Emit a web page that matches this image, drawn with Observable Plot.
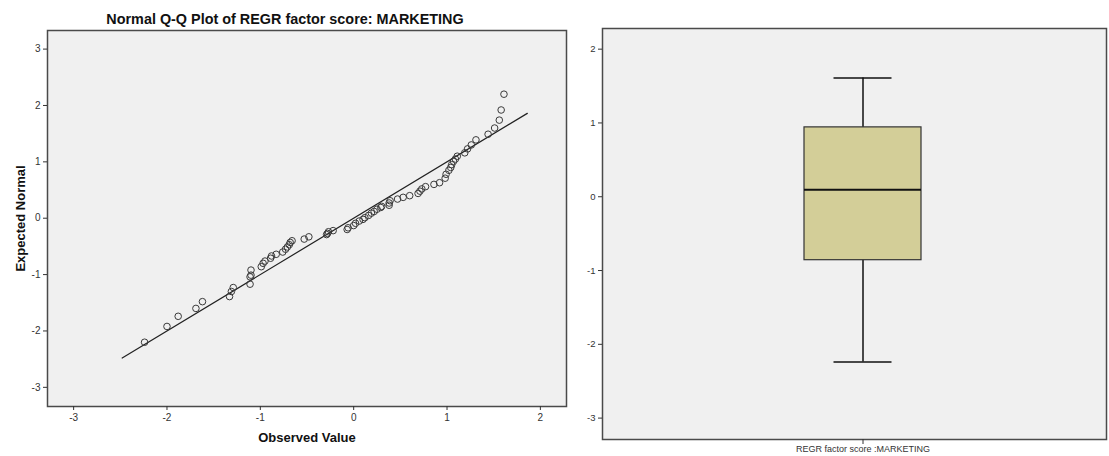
<!DOCTYPE html>
<html>
<head>
<meta charset="utf-8">
<script src="https://cdn.jsdelivr.net/npm/d3@7"></script>
<script src="https://cdn.jsdelivr.net/npm/@observablehq/plot@0.6"></script>
<style>
  html, body { margin: 0; padding: 0; background: #ffffff; }
  body { font-family: "Liberation Sans", Arial, sans-serif; }
  #wrap { display: flex; align-items: flex-start; width: 1109px; height: 456px; overflow: hidden; }
  #left { width: 570px; flex: none; }
  #right { width: 539px; flex: none; }
  #title { box-sizing: border-box; height: 28px; padding-top: 11px; font-size: 14.4px; line-height: 16px;
           font-weight: bold; text-align: center; color: #111; white-space: nowrap; }
</style>
</head>
<body>
<div id="wrap">
  <div id="left"><div id="title"></div><div id="qq"></div></div>
  <div id="right"></div>
</div>
<script>
// ---- Data ----
const qqTitle = "Normal Q-Q Plot of REGR factor score: MARKETING";
const qqXLabel = "Observed Value";
const qqYLabel = "Expected Normal";
const qqTicksX = [-3, -2, -1, 0, 1, 2];
const qqTicksY = [-3, -2, -1, 0, 1, 2, 3];

const observed = [
  -2.24, -2.00, -1.88, -1.69, -1.62, -1.33, -1.31, -1.29, -1.11, -1.11,
  -1.10, -1.10, -0.99, -0.97, -0.95, -0.89, -0.88, -0.83, -0.76, -0.73,
  -0.71, -0.69, -0.68, -0.66, -0.53, -0.48, -0.29, -0.28, -0.27, -0.22,
  -0.07, -0.06, 0.00, 0.02, 0.06, 0.10, 0.12, 0.16, 0.19, 0.22,
  0.25, 0.29, 0.30, 0.38, 0.38, 0.39, 0.47, 0.53, 0.60, 0.69,
  0.71, 0.73, 0.77, 0.86, 0.92, 0.98, 0.99, 1.02, 1.04, 1.05,
  1.07, 1.09, 1.11, 1.19, 1.22, 1.26, 1.31, 1.44, 1.51, 1.56,
  1.58, 1.61
];
const expectedNormal = [
  -2.20, -1.92, -1.74, -1.60, -1.48, -1.39, -1.30, -1.23, -1.17, -1.04,
  -1.01, -0.92, -0.86, -0.80, -0.76, -0.71, -0.67, -0.64, -0.60, -0.55,
  -0.51, -0.47, -0.43, -0.40, -0.37, -0.33, -0.29, -0.27, -0.24, -0.22,
  -0.20, -0.17, -0.13, -0.09, -0.05, -0.02, 0.01, 0.05, 0.09, 0.12,
  0.16, 0.19, 0.21, 0.23, 0.27, 0.31, 0.34, 0.37, 0.40, 0.44,
  0.48, 0.52, 0.56, 0.60, 0.63, 0.71, 0.78, 0.85, 0.90, 0.95,
  1.01, 1.05, 1.10, 1.16, 1.23, 1.30, 1.39, 1.49, 1.60, 1.74,
  1.92, 2.20
];
// reference line (y = x) end points
const refLineX = [-2.48, 1.86];
const refLineY = [-2.48, 1.86];

const boxCategory = "REGR factor score :MARKETING";
const boxTicksY = [-3, -2, -1, 0, 1, 2];
const boxMin = -2.24;
const boxQ1 = -0.86;
const boxMedian = 0.095;
const boxQ3 = 0.94;
const boxMax = 1.61;

// ---- Build tables ----
const qqPoints = observed.map((v, i) => ({observed: v, expected: expectedNormal[i]}));
const refLine = refLineX.map((v, i) => ({x: v, y: refLineY[i]}));
const box = [{cat: boxCategory, min: boxMin, q1: boxQ1, median: boxMedian, q3: boxQ3, max: boxMax}];

const fontFamily = "'Liberation Sans', Arial, sans-serif";
const panelFill = "#f0f0f0";
const frameStroke = "#4a4a4a";
const hyphenFormat = d => String(d);

document.getElementById("title").textContent = qqTitle;

// ---- Left: Q-Q plot ----
const qq = Plot.plot({
  width: 570,
  height: 428,
  marginTop: 2,
  marginBottom: 50,
  marginLeft: 47,
  marginRight: 4,
  style: {fontFamily, fontSize: "10px", color: "#333", background: "transparent", overflow: "visible"},
  x: {domain: [-3.28, 2.28]},
  y: {domain: [-3.34, 3.33]},
  marks: [
    Plot.frame({fill: panelFill, stroke: null}),
    Plot.line(refLine, {x: "x", y: "y", stroke: "#222", strokeWidth: 1.2}),
    Plot.dot(qqPoints, {x: "observed", y: "expected", r: 3.3, stroke: "#3a3a3a", strokeWidth: 1, fill: "none"}),
    Plot.frame({stroke: frameStroke, strokeWidth: 1.5}),
    Plot.axisX({ticks: qqTicksX, tickSize: 4, tickPadding: 3, label: null, tickFormat: hyphenFormat}),
    Plot.axisY({ticks: qqTicksY, tickSize: 4, tickPadding: 3, label: null, tickFormat: hyphenFormat}),
    Plot.text([qqXLabel], {frameAnchor: "bottom", dy: 31, lineAnchor: "middle", fontSize: 13,
      fontWeight: "bold", fill: "#111", text: d => d}),
    Plot.text([qqYLabel], {frameAnchor: "left", dx: -27, rotate: -90, lineAnchor: "middle", textAnchor: "middle",
      fontSize: 13, fontWeight: "bold", fill: "#111", text: d => d})
  ]
});
document.getElementById("qq").appendChild(qq);

// ---- Right: box plot ----
const bp = Plot.plot({
  width: 539,
  height: 456,
  marginTop: 28,
  marginBottom: 17,
  marginLeft: 32,
  marginRight: 3,
  style: {fontFamily, fontSize: "10px", color: "#333", background: "transparent", overflow: "visible"},
  x: {type: "band", domain: [boxCategory], padding: 0.613, insetLeft: 16},
  y: {domain: [-3.29, 2.28]},
  marks: [
    Plot.frame({fill: panelFill, stroke: null}),
    Plot.ruleX(box, {x: "cat", y1: "q3", y2: "max", stroke: "#111", strokeWidth: 1.5}),
    Plot.ruleX(box, {x: "cat", y1: "min", y2: "q1", stroke: "#111", strokeWidth: 1.5}),
    Plot.tickY(box, {x: "cat", y: "max", stroke: "#111", strokeWidth: 1.5, insetLeft: 29.5, insetRight: 29.5}),
    Plot.tickY(box, {x: "cat", y: "min", stroke: "#111", strokeWidth: 1.5, insetLeft: 29.5, insetRight: 29.5}),
    Plot.barY(box, {x: "cat", y1: "q1", y2: "q3", fill: "#d3ce98", stroke: "#333", strokeWidth: 1.2}),
    Plot.tickY(box, {x: "cat", y: "median", stroke: "#111", strokeWidth: 2.2}),
    Plot.frame({stroke: frameStroke, strokeWidth: 1.5}),
    Plot.axisX({tickSize: 5, tickPadding: 1, label: null, fontSize: 9}),
    Plot.axisY({ticks: boxTicksY, tickSize: 4, tickPadding: 3, label: null, tickFormat: hyphenFormat, fontSize: 9.5})
  ]
});
document.getElementById("right").appendChild(bp);
</script>
</body>
</html>
